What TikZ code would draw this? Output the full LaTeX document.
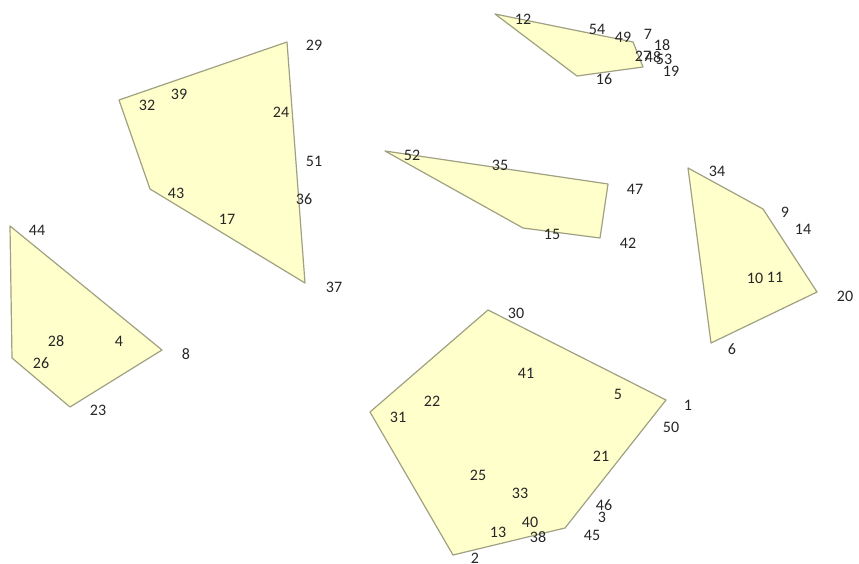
\documentclass[tikz,border=0pt]{standalone}
\usepackage{fontspec}
\setmainfont{Carlito}
\begin{document}
\begin{tikzpicture}[x=1pt,y=-1pt,
  poly/.style={draw={rgb,255:red,160;green,160;blue,130}, fill={rgb,255:red,255;green,255;blue,204}, line width=1.2pt, line join=round},
  lbl/.style={inner sep=0pt, text=black!85, font=\fontsize{16}{16}\selectfont}]
\useasboundingbox (0,0) rectangle (859,564);
% polygons
\draw[poly] (10,226) coordinate (a1) -- (162,350) coordinate (a2) -- (70,407) coordinate (a3) -- (12,358) coordinate (a4) -- cycle;
\draw[poly] (119,100) coordinate (b1) -- (287,42) coordinate (b2) -- (305,283) coordinate (b3) -- (150,189) coordinate (b4) -- cycle;
\draw[poly] (495,14) coordinate (c1) -- (633,42) coordinate (c2) -- (643,67) coordinate (c3) -- (577,76) coordinate (c4) -- cycle;
\draw[poly] (385,151) coordinate (d1) -- (608,184) coordinate (d2) -- (600,238) coordinate (d3) -- (523,228) coordinate (d4) -- cycle;
\draw[poly] (688,168) coordinate (e1) -- (763,209) coordinate (e2) -- (817,292) coordinate (e3) -- (711,343) coordinate (e4) -- cycle;
\draw[poly] (488,310) coordinate (f1) -- (666,400) coordinate (f2) -- (565,528) coordinate (f3) -- (453,555) coordinate (f4) -- (370,412) coordinate (f5) -- cycle;
% labels
\node[lbl] (n12) at (523,19) {12};
\node[lbl] (n54) at (597,29) {54};
\node[lbl] (n49) at (623,37) {49};
\node[lbl] (n7) at (648,34) {7};
\node[lbl] (n18) at (662,45) {18};
\node[lbl] (n27) at (643,56) {27};
\node[lbl] (n48) at (653,57) {48};
\node[lbl] (n53) at (664,59) {53};
\node[lbl] (n19) at (671,71) {19};
\node[lbl] (n16) at (604,79) {16};
\node[lbl] (n29) at (314,45) {29};
\node[lbl] (n32) at (147,105) {32};
\node[lbl] (n39) at (179,94) {39};
\node[lbl] (n24) at (281,112) {24};
\node[lbl] (n51) at (314,161) {51};
\node[lbl] (n43) at (176,193) {43};
\node[lbl] (n36) at (304,199) {36};
\node[lbl] (n17) at (227,219) {17};
\node[lbl] (n37) at (334,287) {37};
\node[lbl] (n52) at (412,155) {52};
\node[lbl] (n35) at (500,165) {35};
\node[lbl] (n47) at (635,189) {47};
\node[lbl] (n15) at (552,234) {15};
\node[lbl] (n42) at (628,243) {42};
\node[lbl] (n34) at (717,171) {34};
\node[lbl] (n9) at (785,212) {9};
\node[lbl] (n14) at (803,229) {14};
\node[lbl] (n10) at (755,278) {10};
\node[lbl] (n11) at (775,277) {11};
\node[lbl] (n20) at (845,296) {20};
\node[lbl] (n6) at (732,349) {6};
\node[lbl] (n44) at (37,230) {44};
\node[lbl] (n28) at (56,341) {28};
\node[lbl] (n4) at (119,341) {4};
\node[lbl] (n26) at (41,363) {26};
\node[lbl] (n8) at (186,354) {8};
\node[lbl] (n23) at (98,410) {23};
\node[lbl] (n30) at (516,313) {30};
\node[lbl] (n41) at (526,373) {41};
\node[lbl] (n5) at (618,394) {5};
\node[lbl] (n1) at (688,405) {1};
\node[lbl] (n50) at (671,427) {50};
\node[lbl] (n22) at (432,401) {22};
\node[lbl] (n31) at (398,417) {31};
\node[lbl] (n21) at (601,456) {21};
\node[lbl] (n25) at (478,475) {25};
\node[lbl] (n33) at (520,493) {33};
\node[lbl] (n46) at (604,505) {46};
\node[lbl] (n3) at (602,517) {3};
\node[lbl] (n45) at (592,535) {45};
\node[lbl] (n40) at (530,522) {40};
\node[lbl] (n38) at (538,537) {38};
\node[lbl] (n13) at (498,532) {13};
\node[lbl] (n2) at (475,558) {2};
\end{tikzpicture}
\end{document}
